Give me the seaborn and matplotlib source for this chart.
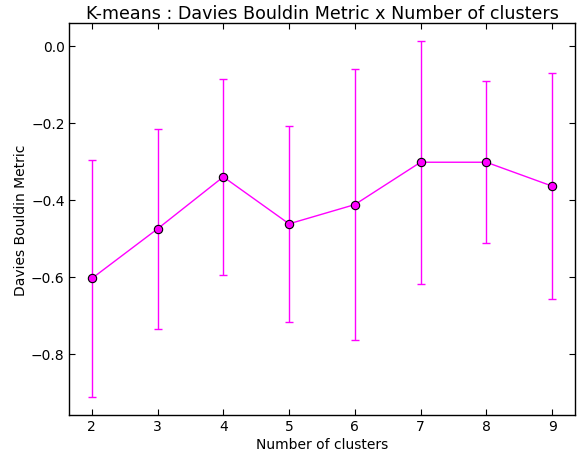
import numpy as np
import pandas as pd
import matplotlib
matplotlib.use("Agg")
import matplotlib.pyplot as plt
import seaborn as sns

n_clusters = [2, 3, 4, 5, 6, 7, 8, 9]
db_mean = [-0.604, -0.475, -0.340, -0.462, -0.412, -0.302, -0.302, -0.364]
db_std = [0.308, 0.260, 0.255, 0.255, 0.352, 0.315, 0.210, 0.294]

df = pd.DataFrame({"k": n_clusters, "db": db_mean, "std": db_std})

sns.set_style("ticks", {
    "xtick.direction": "in",
    "ytick.direction": "in",
    "axes.edgecolor": "black",
    "text.color": "black",
    "axes.labelcolor": "black",
    "xtick.color": "black",
    "ytick.color": "black",
})
plt.rcParams["font.family"] = ["DejaVu Sans"]

fig = plt.figure(figsize=(5.78, 4.56), dpi=100)
ax = fig.add_axes([0.119, 0.088, 0.876, 0.859])

ax.errorbar(df["k"], df["db"], yerr=df["std"], fmt="none",
            ecolor="magenta", elinewidth=1, capsize=3, capthick=1)
sns.lineplot(data=df, x="k", y="db", ax=ax, color="magenta", linewidth=1,
             marker="o", markersize=6, markerfacecolor="magenta",
             markeredgecolor="black", markeredgewidth=0.8)

ax.tick_params(axis="both", which="both", direction="in", top=True, right=True,
               length=4, labelsize=10, pad=3, color="black", labelcolor="black")
ax.set_xticks(n_clusters)
for s in ax.spines.values():
    s.set_linewidth(1)
    s.set_color("black")

ax.set_title("K-means : Davies Bouldin Metric x Number of clusters", fontsize=12.6,
             color="black", pad=4)
ax.set_xlabel("Number of clusters", fontsize=10, color="black", labelpad=3)
ax.set_ylabel("Davies Bouldin Metric", fontsize=10, color="black", labelpad=2)

fig.savefig("out.png", dpi=100)
